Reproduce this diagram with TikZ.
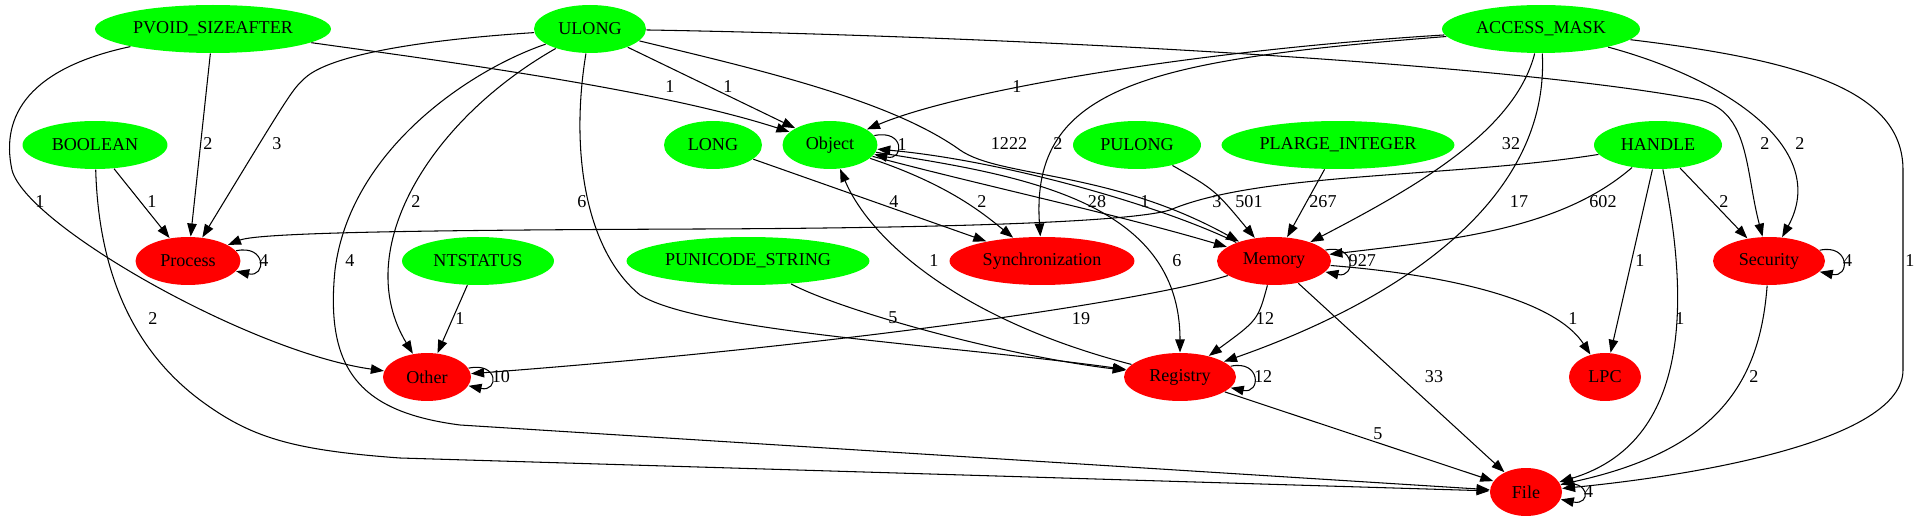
\documentclass[tikz,border=0pt]{standalone}
\usepackage{fontspec}
\setmainfont{Liberation Serif}
\usetikzlibrary{shapes.geometric}
\usetikzlibrary{arrows.meta}

\begin{document}
\begin{tikzpicture}[-,>={Triangle[length=0.26cm,width=0.19cm]},x=0.02cm,y=-0.02cm,line width=0.6pt,
  every node/.style={font=\fontsize{10.3}{12}\selectfont},
  typenode/.style={ellipse,fill=green,minimum height=0.96cm,inner sep=0pt},
  catnode/.style={ellipse,fill=red,minimum height=0.96cm,inner sep=0pt},
  selfloop/.style={out=12,in=-12,min distance=0.62cm,max distance=0.62cm},
  looplbl/.style={anchor=west,inner sep=0pt}]
\useasboundingbox (0,0) rectangle (1918,523);

\node[typenode,minimum width=4.72cm] (pvoid) at (213,29) {PVOID\_SIZEAFTER};
\node[typenode,minimum width=2.24cm] (ulong) at (590,29) {ULONG};
\node[typenode,minimum width=3.96cm] (accessmask) at (1541,29) {ACCESS\_MASK};

\node[typenode,minimum width=2.9cm] (boolean) at (95,145) {BOOLEAN};
\node[typenode,minimum width=1.96cm] (long) at (713,145) {LONG};
\node[typenode,minimum width=1.9cm] (object) at (830,145) {Object};
\node[typenode,minimum width=2.56cm] (pulong) at (1137,145) {PULONG};
\node[typenode,minimum width=4.66cm] (plarge) at (1338,145) {PLARGE\_INTEGER};
\node[typenode,minimum width=2.56cm] (handle) at (1658,145) {HANDLE};

\node[catnode,minimum width=2.1cm] (process) at (188,261) {Process};
\node[typenode,minimum width=3.04cm] (ntstatus) at (478,261) {NTSTATUS};
\node[typenode,minimum width=4.86cm] (punicode) at (748,261) {PUNICODE\_STRING};
\node[catnode,minimum width=3.7cm] (sync) at (1042,261) {Synchronization};
\node[catnode,minimum width=2.28cm] (memory) at (1274,261) {Memory};
\node[catnode,minimum width=2.24cm] (security) at (1769,261) {Security};

\node[catnode,minimum width=1.76cm] (other) at (427,377) {Other};
\node[catnode,minimum width=2.24cm] (registry) at (1180,377) {Registry};
\node[catnode,minimum width=1.44cm] (lpc) at (1605,377) {LPC};

\node[catnode,minimum width=1.44cm] (file) at (1526,492) {File};

\draw[->] (pvoid) .. controls (450,62) and (660,90) .. (object) node at (670,87) {1};
\draw[->] (pvoid) -- (process) node at (208,144) {2};
\draw[->] (pvoid) .. controls (30,68) and (0,115) .. (12,170) .. controls (26,225) and (250,352) .. (other) node at (40,202) {1};

\draw[->] (boolean) -- (process) node at (152,202) {1};
\draw[->] (boolean) .. controls (98,250) and (120,340) .. (200,400) .. controls (250,437) and (290,450) .. (400,458) -- (file) node at (153,319) {2};

\draw[->] (ulong) .. controls (420,40) and (330,55) .. (305,78) .. controls (292,90) .. (process) node at (277,144) {3};
\draw[->] (ulong) .. controls (470,70) and (350,150) .. (335,270) .. controls (325,370) and (360,412) .. (460,425) -- (file) node at (350,261) {4};
\draw[->] (ulong) .. controls (430,120) and (350,250) .. (other) node at (416,202) {2};
\draw[->] (ulong) .. controls (570,150) and (585,250) .. (640,295) .. controls (700,332) and (950,345) .. (registry) node at (582,202) {6};
\draw[->] (ulong) -- (object) node at (728,87) {1};
\draw[->] (ulong) .. controls (760,70) and (890,100) .. (960,150) .. controls (1000,178) and (1110,170) .. (memory) node at (1009,144) {1222};
\draw[->] (ulong) .. controls (1000,36) and (1500,62) .. (1700,100) .. controls (1750,112) and (1745,170) .. (security) node at (1765,144) {2};

\draw[->] (accessmask) .. controls (1200,50) and (960,90) .. (object) node at (1017,87) {1};
\draw[->] (accessmask) .. controls (1150,60) and (1030,85) .. (sync) node at (1058,144) {2};
\draw[->] (accessmask) .. controls (1515,130) and (1420,185) .. (memory) node at (1511,144) {32};
\draw[->] (accessmask) .. controls (1550,200) and (1400,300) .. (registry) node at (1519,202) {17};
\draw[->] (accessmask) .. controls (1730,80) and (1830,150) .. (security) node at (1800,144) {2};
\draw[->] (accessmask) .. controls (1800,60) and (1903,90) .. (1903,170) -- (1903,370) .. controls (1903,440) and (1700,475) .. (file) node at (1910,261) {1};

\draw[->] (long) -- (sync) node at (894,202) {4};

\draw[->] (object) to[selfloop] node[looplbl] {1} (object);
\draw[->] (object) .. controls (950,185) and (985,215) .. (sync) node at (982,202) {2};
\draw[->] (object) .. controls (980,185) and (1120,215) .. (memory) node at (1097,202) {28};
\draw[->] (memory) .. controls (1160,205) and (1000,160) .. (object) node at (1145,202) {1};
\draw[->] (object) .. controls (1020,175) and (1180,200) .. (registry) node at (1177,261) {6};

\draw[->] (pulong) .. controls (1215,190) .. (memory) node at (1249,202) {501};
\draw[->] (plarge) -- (memory) node at (1323,202) {267};

\draw[->] (handle) .. controls (1450,178) and (1260,172) .. (1170,210) .. controls (1130,222) and (950,228) .. (700,229) .. controls (450,230) and (260,232) .. (process) node at (1217,202) {3};
\draw[->] (handle) .. controls (1560,230) and (1450,240) .. (memory) node at (1603,202) {602};
\draw[->] (handle) -- (security) node at (1724,202) {2};
\draw[->] (handle) -- (lpc) node at (1640,261) {1};
\draw[->] (handle) .. controls (1685,280) and (1700,440) .. (file) node at (1680,319) {1};

\draw[->] (process) to[selfloop] node[looplbl] {4} (process);
\draw[->] (ntstatus) -- (other) node at (460,319) {1};
\draw[->] (punicode) .. controls (840,310) and (1000,355) .. (registry) node at (893,318) {5};

\draw[->] (memory) to[selfloop] node[looplbl] {927} (memory);
\draw[->] (memory) .. controls (1150,300) and (850,345) .. (other) node at (1081,319) {19};
\draw[->] (memory) .. controls (1258,320) .. (registry) node at (1265,319) {12};
\draw[->] (memory) .. controls (1450,275) and (1555,300) .. (lpc) node at (1573,319) {1};
\draw[->] (memory) -- (file) node at (1434,377) {33};

\draw[->] (security) to[selfloop] node[looplbl] {4} (security);
\draw[->] (security) .. controls (1760,380) and (1720,450) .. (file) node at (1754,377) {2};

\draw[->] (other) to[selfloop] node[looplbl] {10} (other);
\draw[->] (registry) to[selfloop] node[looplbl] {12} (registry);
\draw[->] (registry) .. controls (960,320) and (870,240) .. (object) node at (934,261) {1};
\draw[->] (registry) -- (file) node at (1378,434) {5};

\draw[->] (file) to[selfloop] node[looplbl] {4} (file);

\end{tikzpicture}
\end{document}
